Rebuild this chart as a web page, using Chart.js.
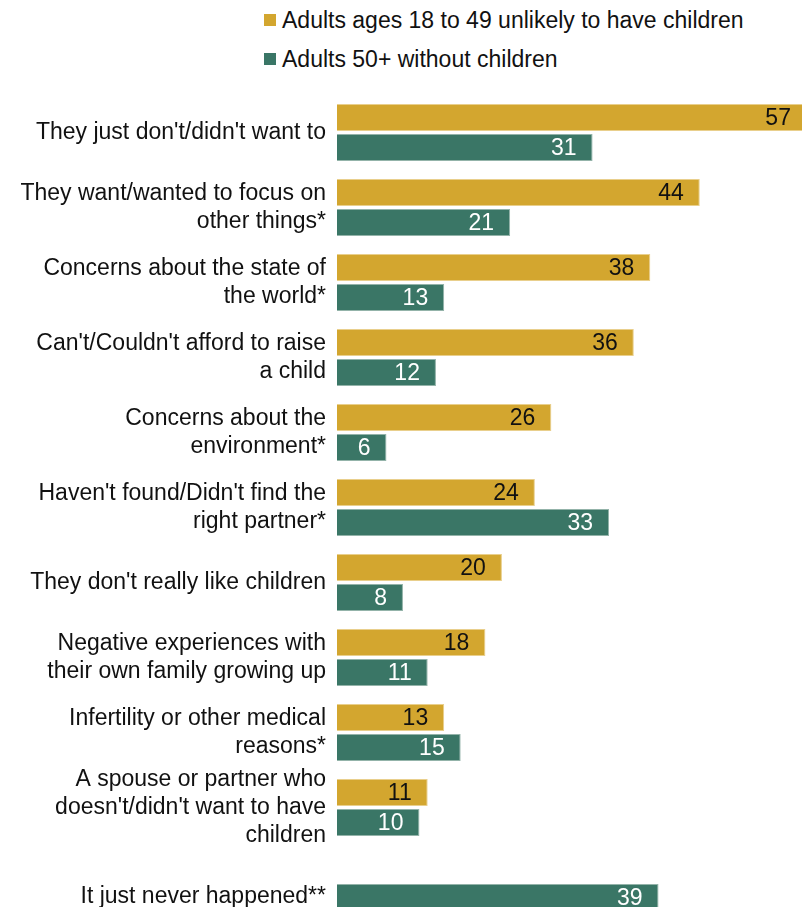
<!DOCTYPE html>
<html>
<head>
<meta charset="utf-8">
<script src="https://cdn.jsdelivr.net/npm/chart.js@4"></script>
<style>
  html, body { margin: 0; padding: 0; background: #fff; overflow: hidden; }
  body { width: 802px; height: 907px; position: relative; font-family: "Liberation Sans", Arial, sans-serif; }
  #legend { position: absolute; left: 264px; top: 5px; font-size: 23px; color: #111; }
  #legend .item { display: flex; align-items: center; height: 30px; margin-bottom: 9px; }
  #legend .swatch { width: 12px; height: 12px; margin-right: 6px; }
  #wrap { position: absolute; left: 0; top: 0; width: 802px; height: 945px; }
</style>
</head>
<body>
<div id="legend"></div>
<div id="wrap"><canvas id="reasonsChart"></canvas></div>
<script>
// reasons for not having children, % of each group
const reasons = [
    ["They just don't/didn't want to"],
    ["They want/wanted to focus on", "other things*"],
    ["Concerns about the state of", "the world*"],
    ["Can't/Couldn't afford to raise", "a child"],
    ["Concerns about the", "environment*"],
    ["Haven't found/Didn't find the", "right partner*"],
    ["They don't really like children"],
    ["Negative experiences with", "their own family growing up"],
    ["Infertility or other medical", "reasons*"],
    ["A spouse or partner who", "doesn't/didn't want to have", "children"],
    ["", "It just never happened**"]
];
const younger = [57, 44, 38, 36, 26, 24, 20, 18, 13, 11, null];
const older = [31, 21, 13, 12, 6, 33, 8, 11, 15, 10, 39];

const seriesNames = ["Adults ages 18 to 49 unlikely to have children", "Adults 50+ without children"];
const GOLD = '#D3A62F';
const GREEN = '#3A7666';

// legend above the chart
const legendBox = document.getElementById('legend');
[GOLD, GREEN].forEach((col, i) => {
    legendBox.innerHTML += `<div class="item"><span class="swatch" style="background:${col}"></span>${seriesNames[i]}</div>`;
});

Chart.defaults.font.family = '"Liberation Sans", Arial, sans-serif';
Chart.defaults.font.size = 23;
Chart.defaults.color = '#111';

// value labels at the inner end of each bar
const barValues = {
    id: 'barValues',
    afterDatasetsDraw(chart) {
        const ctx = chart.ctx;
        ctx.save();
        ctx.font = '23px "Liberation Sans", Arial, sans-serif';
        ctx.textAlign = 'right';
        ctx.textBaseline = 'middle';
        chart.data.datasets.forEach((ds, di) => {
            const meta = chart.getDatasetMeta(di);
            meta.data.forEach((bar, i) => {
                const v = ds.data[i];
                if (v === null) return;
                ctx.fillStyle = di === 0 ? '#111' : '#fff';
                ctx.fillText(v, bar.x - 16, bar.y + 1);
            });
        });
        ctx.restore();
    }
};

const ctx = document.getElementById('reasonsChart');
new Chart(ctx, {
    type: 'bar',
    data: {
        labels: reasons,
        datasets: [{
            label: seriesNames[0],
            data: younger,
            backgroundColor: GOLD,
            borderColor: '#E9CF8C',
            borderWidth: 1
        }, {
            label: seriesNames[1],
            data: older,
            backgroundColor: GREEN,
            borderColor: '#93B3A9',
            borderWidth: 1
        }]
    },
    options: {
        indexAxis: 'y',
        responsive: true,
        maintainAspectRatio: false,
        animation: false,
        layout: { padding: { top: 95, right: 0, bottom: 0, left: 0 } },
        plugins: {
            legend: { display: false },
            tooltip: { enabled: false }
        },
        scales: {
            x: {
                display: false,
                min: 0,
                max: 56.4
            },
            y: {
                grid: { display: false, drawTicks: false },
                border: { display: false },
                ticks: {
                    autoSkip: false,
                    padding: 11,
                    color: '#111',
                    font: { size: 23, lineHeight: 1.22 }
                },
                afterFit(scale) {
                    scale.width = 337;
                }
            }
        }
    },
    plugins: [barValues]
});
</script>
</body>
</html>
